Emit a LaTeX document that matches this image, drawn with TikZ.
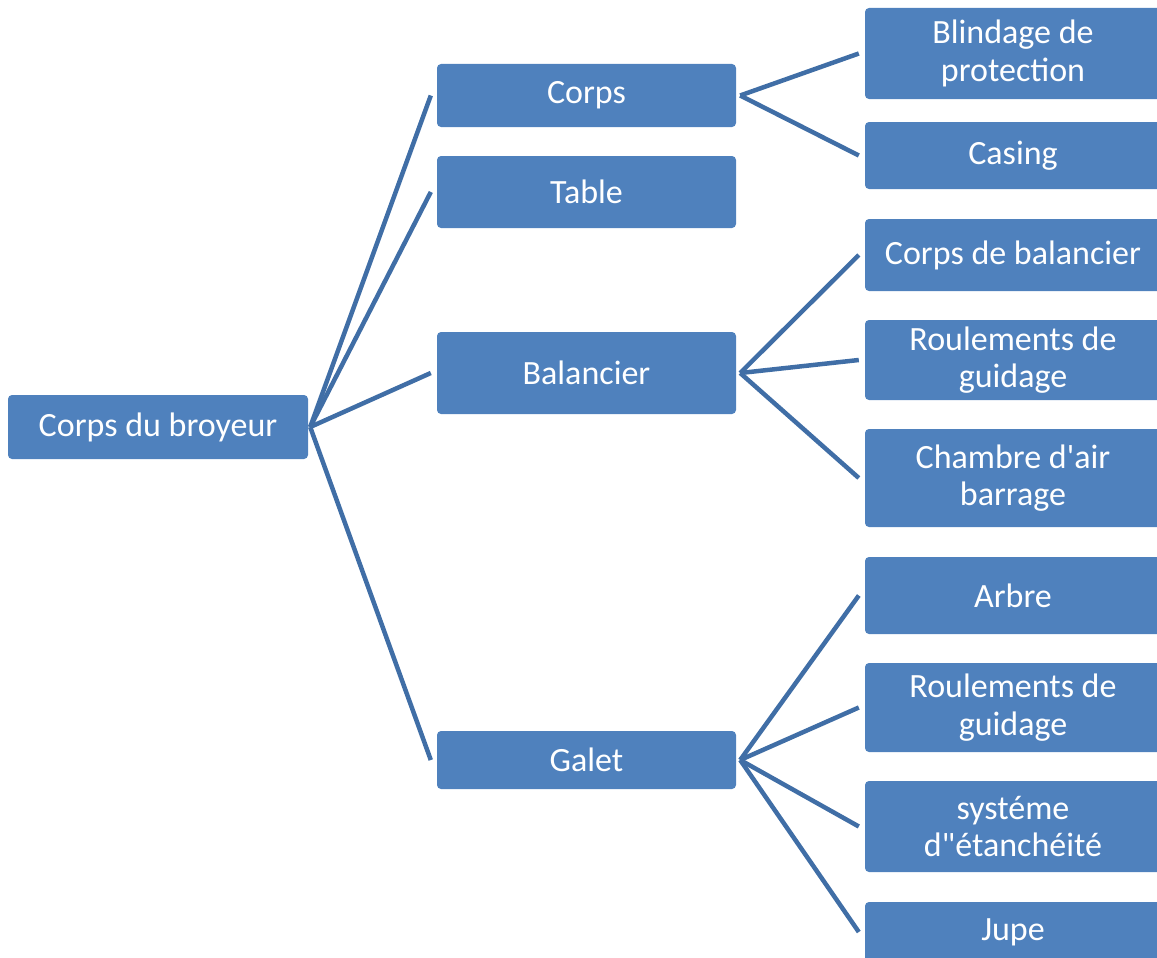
\documentclass[tikz,border=0pt]{standalone}
\usepackage{fontspec}
\newfontfamily\boxfont{Carlito}
\definecolor{boxblue}{RGB}{79,129,189}
\definecolor{linkblue}{RGB}{64,110,166}
\tikzset{
  part/.style={rectangle, rounded corners=4pt, fill=boxblue, text=white,
    font=\boxfont\fontsize{34}{37.5}\selectfont, align=center, inner sep=0pt},
  link/.style={draw=linkblue, line width=4.5pt}
}
\begin{document}
\begin{tikzpicture}[x=1pt, y=-1pt]
        % Size of the page
        \useasboundingbox (0,0) rectangle (1157,958);

        % Width of the boxes
        \def\wl{299}
        \def\wr{296}

        % Draw the root box
        \node[part, minimum width=300, minimum height=64] (root) at (158,427) {Corps du broyeur};

        % Draw the first level
        \node[part, minimum width=\wl, minimum height=63] (corps) at (586.5,95.5) {Corps};
        \node[part, minimum width=\wl, minimum height=72] (table) at (586.5,192) {Table};
        \node[part, minimum width=\wl, minimum height=82] (balancier) at (586.5,373) {Balancier};
        \node[part, minimum width=\wl, minimum height=58] (galet) at (586.5,760) {Galet};

        % Draw the second level
        \node[part, minimum width=\wr, minimum height=91] (blindage) at (1013,53.5) {Blindage de\\protection};
        \node[part, minimum width=\wr, minimum height=67] (casing) at (1013,155.5) {Casing};
        \node[part, minimum width=\wr, minimum height=72] (corpsbal) at (1013,255) {Corps de balancier};
        \node[part, minimum width=\wr, minimum height=80] (roulbal) at (1013,360) {Roulements de\\guidage};
        \node[part, minimum width=\wr, minimum height=98] (chambre) at (1013,478) {Chambre d'air\\barrage};
        \node[part, minimum width=\wr, minimum height=77] (arbre) at (1013,595.5) {Arbre};
        \node[part, minimum width=\wr, minimum height=89] (roulgal) at (1013,707.5) {Roulements de\\guidage};
        \node[part, minimum width=\wr, minimum height=91] (systeme) at (1013,826.5) {systéme\\d"étanchéité};
        \node[part, minimum width=\wr, minimum height=60] (jupe) at (1013,932) {Jupe};

        % Connect the root to the first level
        \foreach \i in {corps, table, balancier, galet} {
          \draw[link] ([xshift=2pt]root.east) -- ([xshift=-6pt]\i.west);
        }

        % Connect the first level to the second level
        \foreach \i in {blindage, casing} {
          \draw[link] ([xshift=4pt]corps.east) -- ([xshift=-6pt]\i.west);
        }
        \foreach \i in {corpsbal, roulbal, chambre} {
          \draw[link] ([xshift=4pt]balancier.east) -- ([xshift=-6pt]\i.west);
        }
        \foreach \i in {arbre, roulgal, systeme, jupe} {
          \draw[link] ([xshift=4pt]galet.east) -- ([xshift=-6pt]\i.west);
        }
      \end{tikzpicture}
\end{document}
